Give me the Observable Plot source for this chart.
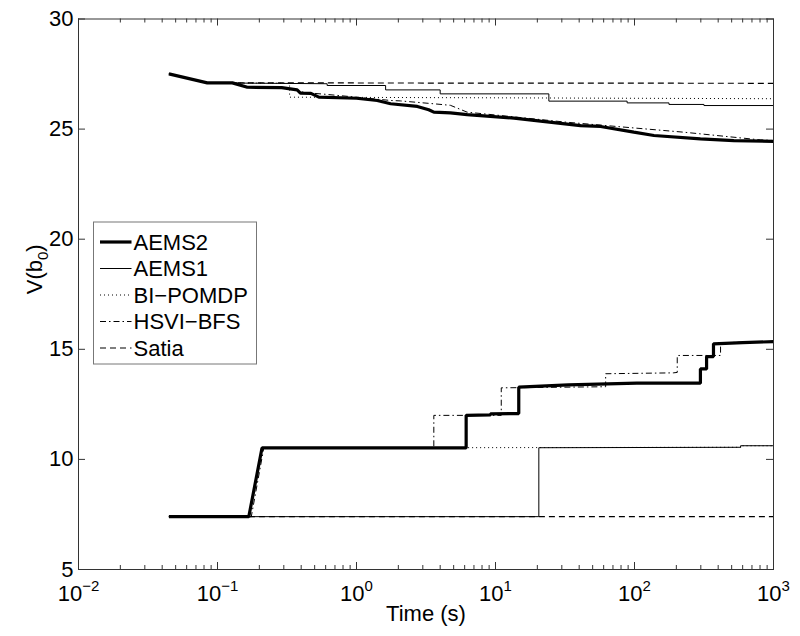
<!DOCTYPE html>
<html>
<head>
<meta charset="utf-8">
<script src="https://cdn.jsdelivr.net/npm/d3@7"></script>
<script src="https://cdn.jsdelivr.net/npm/@observablehq/plot@0.6"></script>
<style>
  html, body { margin: 0; padding: 0; background: #fff; }
  #chart { width: 800px; height: 636px; }
</style>
</head>
<body>
<div id="chart"></div>
<script>
// ---------- data ----------
const seriesNames = ["AEMS2", "AEMS1", "BI-POMDP", "HSVI-BFS", "Satia"];

// [time (s), V(b0)] — upper bounds
const aems2Upper = [[0.0447, 27.51], [0.0844, 27.10], [0.128, 27.10], [0.164, 26.90], [0.29, 26.88], [0.374, 26.78], [0.395, 26.63], [0.47, 26.62], [0.536, 26.45], [1.0, 26.40], [1.41, 26.30], [1.76, 26.15], [2.74, 26.03], [3.31, 25.88], [3.6, 25.77], [4.74, 25.74], [6.25, 25.66], [13.6, 25.50], [21.1, 25.36], [40.9, 25.16], [57, 25.12], [98.9, 24.86], [138, 24.71], [298, 24.56], [518, 24.48], [1000, 24.44]];
const aems1Upper = [[0.0447, 27.51], [0.0844, 27.10], [0.615, 27.06], [0.615, 26.98], [1.62, 26.98], [1.62, 26.78], [4.0, 26.78], [4.0, 26.60], [24.2, 26.60], [24.2, 26.27], [88.5, 26.27], [88.5, 26.19], [177, 26.19], [177, 26.12], [316, 26.12], [316, 26.07], [1000, 26.07]];
const bipomdpUpper = [[0.0447, 27.51], [0.0844, 27.10], [0.33, 27.08], [0.33, 26.45], [1000, 26.38]];
const hsviUpper = [[0.0447, 27.51], [0.0844, 27.10], [0.128, 27.10], [0.164, 26.90], [0.29, 26.88], [0.374, 26.78], [0.42, 26.66], [0.6, 26.58], [1.0, 26.45], [1.76, 26.30], [2.07, 26.28], [3.6, 26.15], [4.74, 26.08], [6.25, 25.77], [32.8, 25.31], [226, 24.86], [805, 24.51], [1000, 24.48]];
const satiaUpper = [[0.0447, 27.51], [0.0844, 27.10], [1000, 27.08]];

// [time (s), V(b0)] — lower bounds
const aems2Lower = [[0.0447, 7.4], [0.168, 7.4], [0.209, 10.52], [6.15, 10.52], [6.15, 12.0], [9.2, 12.02], [9.2, 12.07], [14.7, 12.08], [14.7, 13.28], [33.5, 13.38], [104, 13.46], [298, 13.46], [298, 14.11], [330, 14.11], [330, 14.67], [370, 14.67], [370, 15.25], [600, 15.30], [1000, 15.35]];
const aems1Lower = [[0.0447, 7.4], [20.5, 7.4], [20.5, 10.53], [580, 10.55], [580, 10.62], [1000, 10.62]];
const bipomdpLower = [[0.0447, 7.4], [0.168, 7.4], [0.209, 10.52], [580, 10.55], [580, 10.62], [1000, 10.62]];
const hsviLower = [[0.0447, 7.4], [0.175, 7.4], [0.215, 10.5], [3.6, 10.5], [3.6, 12.0], [11.0, 12.0], [11.0, 13.25], [62, 13.3], [62, 13.89], [190, 13.93], [203, 13.95], [203, 14.72], [416, 14.72], [416, 15.3], [1000, 15.35]];
const satiaLower = [[0.0447, 7.4], [1000, 7.4]];

const xTickExponents = [-2, -1, 0, 1, 2, 3];
const yTicks = [5, 10, 15, 20, 25, 30];

// ---------- styles ----------
const lineStyle = {
  "AEMS2":    {strokeWidth: 3.2, dash: null},
  "AEMS1":    {strokeWidth: 1,   dash: null},
  "BI-POMDP": {strokeWidth: 1,   dash: "1,3"},
  "HSVI-BFS": {strokeWidth: 1,   dash: "6,3,1.5,3"},
  "Satia":    {strokeWidth: 1.2, dash: "6,4"}
};
const seriesData = {
  "AEMS2": [aems2Upper, aems2Lower],
  "AEMS1": [aems1Upper, aems1Lower],
  "BI-POMDP": [bipomdpUpper, bipomdpLower],
  "HSVI-BFS": [hsviUpper, hsviLower],
  "Satia": [satiaUpper, satiaLower]
};

const W = 800, H = 636;
const mL = 78, mR = 27, mT = 18.5, mB = 67;
const plotW = W - mL - mR, plotH = H - mT - mB;
const majorLen = 7, minorLen = 4;
const axisColor = "#333";

const xMajor = xTickExponents.map(e => 10 ** e);
const xMinor = [];
for (let e = xTickExponents[0]; e < xTickExponents[xTickExponents.length - 1]; e++)
  for (let m = 2; m <= 9; m++) xMinor.push(m * 10 ** e);

const marks = [];
// data lines (drawn in legend order, as MATLAB does)
for (const name of seriesNames) {
  const st = lineStyle[name];
  for (const arr of seriesData[name]) {
    marks.push(Plot.line(arr, {
      x: d => d[0], y: d => d[1],
      stroke: "black", strokeWidth: st.strokeWidth,
      strokeDasharray: st.dash, strokeLinecap: "butt", strokeLinejoin: "miter"
    }));
  }
}
// frame and inward ticks (box style)
marks.push(Plot.frame({stroke: axisColor, strokeWidth: 1}));
marks.push(Plot.tickX(xMajor, {x: d => d, insetTop: plotH - majorLen, stroke: axisColor}));
marks.push(Plot.tickX(xMajor, {x: d => d, insetBottom: plotH - majorLen, stroke: axisColor}));
marks.push(Plot.tickX(xMinor, {x: d => d, insetTop: plotH - minorLen, stroke: axisColor}));
marks.push(Plot.tickX(xMinor, {x: d => d, insetBottom: plotH - minorLen, stroke: axisColor}));
marks.push(Plot.tickY(yTicks, {y: d => d, insetRight: plotW - majorLen, stroke: axisColor}));
marks.push(Plot.tickY(yTicks, {y: d => d, insetLeft: plotW - majorLen, stroke: axisColor}));
// tick labels
marks.push(Plot.text(xTickExponents, {
  x: e => 10 ** e, frameAnchor: "bottom", dy: 31, lineAnchor: "bottom",
  text: e => "10^" + e, fontSize: 22, textAnchor: "middle", fill: "black"
}));
marks.push(Plot.text(yTicks, {
  y: d => d, frameAnchor: "left", dx: -5, textAnchor: "end",
  text: d => String(d), fontSize: 22, fill: "black"
}));
// axis titles
marks.push(Plot.text(["Time (s)"], {text: d => d, frameAnchor: "bottom", dy: 51, lineAnchor: "bottom", fontSize: 22, fill: "black"}));
marks.push(Plot.text(["V(b0)"], {text: d => d, frameAnchor: "left", dx: -37, rotate: -90, lineAnchor: "bottom", fontSize: 22, fill: "black"}));

const svg = Plot.plot({
  width: W, height: H,
  marginLeft: mL, marginRight: mR, marginTop: mT, marginBottom: mB,
  x: {type: "log", domain: [10 ** xTickExponents[0], 10 ** xTickExponents[xTickExponents.length - 1]], axis: null},
  y: {domain: [yTicks[0], yTicks[yTicks.length - 1]], axis: null},
  style: {fontFamily: "'Liberation Sans', Arial, Helvetica, sans-serif", background: "white", color: "black"},
  marks
});

// superscripts / subscripts
d3.select(svg).selectAll("text").each(function () {
  const t = this.textContent;
  const m = t.match(/^10\^(-?\d+)$/);
  const s = d3.select(this);
  if (m) {
    s.text("10");
    s.append("tspan").attr("dy", -10).attr("font-size", 15).text(m[1].replace("-", "\u2212"));
  } else if (t === "V(b0)") {
    s.text("V(b");
    s.append("tspan").attr("dy", 6).attr("font-size", 15).text("0");
    s.append("tspan").attr("dy", -6).text(")");
  }
});

// legend
const lg = {x: 93.5, y: 222, w: 163, h: 142, first: 242, step: 26.5, lx1: 100, lx2: 131.5, tx: 133.5};
const legend = d3.select(svg).append("g").attr("class", "legend").attr("text-anchor", "start");
legend.append("rect").attr("x", lg.x).attr("y", lg.y).attr("width", lg.w).attr("height", lg.h)
  .attr("fill", "white").attr("stroke", "#777").attr("stroke-width", 1);
seriesNames.forEach((name, i) => {
  const st = lineStyle[name];
  const yy = lg.first + i * lg.step;
  legend.append("line").attr("x1", lg.lx1).attr("x2", lg.lx2).attr("y1", yy).attr("y2", yy)
    .attr("stroke", "black").attr("stroke-width", st.strokeWidth)
    .attr("stroke-dasharray", st.dash);
  legend.append("text").attr("x", lg.tx).attr("y", yy).attr("dy", "0.36em")
    .attr("text-anchor", "start")
    .attr("font-size", 22).attr("fill", "black").text(name.replace("-", "\u2212"));
});

document.getElementById("chart").appendChild(svg);
</script>
</body>
</html>
